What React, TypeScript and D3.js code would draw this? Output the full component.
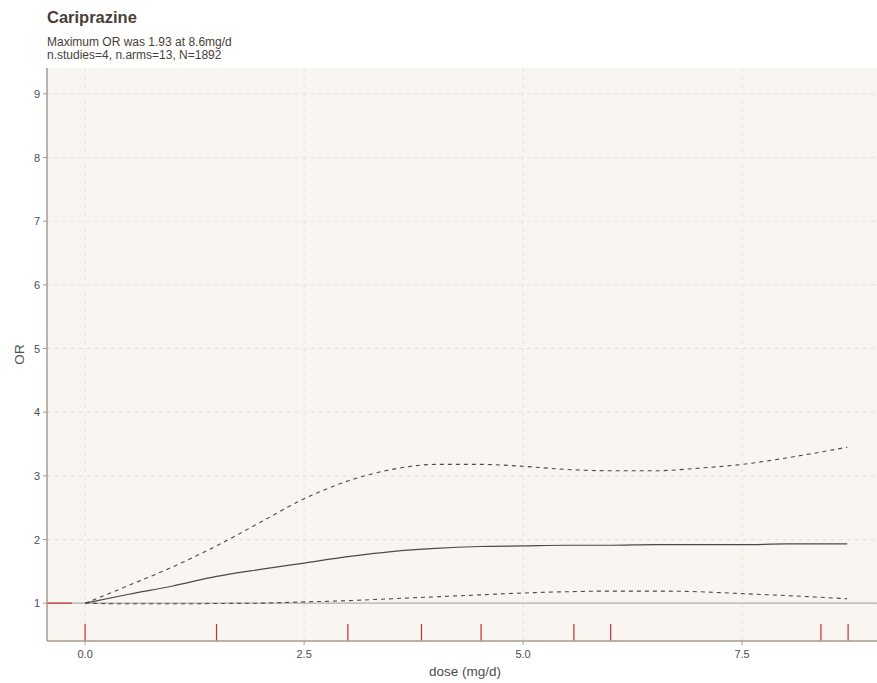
import React from "react";
import * as d3 from "d3";

const doses = [0, 0.5, 1, 1.5, 2, 2.5, 3, 3.5, 4, 4.5, 5, 5.5, 6, 6.5, 7, 7.5, 8, 8.7];
const orEstimate = [1.0, 1.14, 1.27, 1.42, 1.53, 1.63, 1.73, 1.81, 1.86, 1.89, 1.9, 1.91, 1.91, 1.92, 1.92, 1.92, 1.93, 1.93];
const orUpper = [1.0, 1.28, 1.57, 1.9, 2.27, 2.64, 2.92, 3.1, 3.18, 3.18, 3.15, 3.1, 3.08, 3.08, 3.12, 3.18, 3.28, 3.45];
const orLower = [1.0, 0.99, 0.99, 0.995, 1.0, 1.02, 1.04, 1.07, 1.1, 1.13, 1.16, 1.18, 1.19, 1.19, 1.18, 1.15, 1.12, 1.07];
const rugDoses = [0, 1.5, 3, 3.84, 4.52, 5.58, 6, 8.4, 8.71];
const xTicks = [0, 2.5, 5, 7.5];
const yTicks = [1, 2, 3, 4, 5, 6, 7, 8, 9];
const title = "Cariprazine";
const subtitle1 = "Maximum OR was 1.93 at 8.6mg/d";
const subtitle2 = "n.studies=4, n.arms=13, N=1892";

const W = 877;
const H = 683;
const L = 47, R = 877, T = 68, B = 641;

export default function App() {
  const x = d3.scaleLinear().domain([-0.435, 9.04]).range([L, R]);
  const y = d3.scaleLinear().domain([0.406, 9.406]).range([B, T]);
  const mk = (vals: number[]) =>
    d3.line<number>().x((_, i) => x(doses[i])).y((v) => y(v)).curve(d3.curveMonotoneX)(vals) || "";
  const font = "'Liberation Sans', Arial, sans-serif";
  const txt = "#4d4d4d";
  const grid = "#e9e3d5";
  return (
    <svg width={W} height={H} style={{ position: "absolute", left: 0, top: 0, fontFamily: font }}>
      <rect x={0} y={0} width={W} height={H} fill="#ffffff" />
      <text x={47} y={23} fontSize={16.5} fontWeight="bold" fill="#4a3e36">{title}</text>
      <text x={47} y={46} fontSize={12} fill="#4a3e36">{subtitle1}</text>
      <text x={47} y={59} fontSize={12} fill="#4a3e36">{subtitle2}</text>
      <rect x={L} y={T} width={R - L} height={B - T} fill="#f9f6f1" />
      {xTicks.map((t) => (
        <line key={"gx" + t} x1={x(t)} x2={x(t)} y1={T} y2={B} stroke={grid} strokeWidth={1} strokeDasharray="4,4" />
      ))}
      {yTicks.map((t) => (
        <line key={"gy" + t} x1={L} x2={R} y1={y(t)} y2={y(t)} stroke={grid} strokeWidth={1} strokeDasharray="4,4" />
      ))}
      <line x1={L} x2={R} y1={y(1)} y2={y(1)} stroke="#b5b0a8" strokeWidth={1.2} />
      <line x1={L} x2={x(-0.15)} y1={y(1)} y2={y(1)} stroke="#c8323a" strokeWidth={1.2} />
      <path d={mk(orUpper)} fill="none" stroke="#4a4a4a" strokeWidth={1.1} strokeDasharray="4,4" />
      <path d={mk(orLower)} fill="none" stroke="#4a4a4a" strokeWidth={1.1} strokeDasharray="4,4" />
      <path d={mk(orEstimate)} fill="none" stroke="#4a4a4a" strokeWidth={1.2} />
      {rugDoses.map((d, i) => (
        <line key={"r" + i} x1={x(d)} x2={x(d)} y1={B - 17} y2={B} stroke="#cc2a33" strokeWidth={1.2} />
      ))}
      <line x1={L} x2={L} y1={T} y2={B} stroke="#a89a8c" strokeWidth={1.5} />
      <line x1={L} x2={R} y1={B} y2={B} stroke="#a89a8c" strokeWidth={1.5} />
      {yTicks.map((t) => (
        <g key={"ty" + t}>
          <line x1={L - 4} x2={L} y1={y(t)} y2={y(t)} stroke="#a89a8c" strokeWidth={1} />
          <text x={L - 7} y={y(t) + 4} fontSize={11} fill={txt} textAnchor="end">{t}</text>
        </g>
      ))}
      {xTicks.map((t) => (
        <g key={"tx" + t}>
          <line x1={x(t)} x2={x(t)} y1={B} y2={B + 4} stroke="#a89a8c" strokeWidth={1} />
          <text x={x(t)} y={B + 17} fontSize={11} fill={txt} textAnchor="middle">{t.toFixed(1)}</text>
        </g>
      ))}
      <text x={465} y={B + 35} fontSize={13.5} fill={txt} textAnchor="middle">dose (mg/d)</text>
      <text transform={`translate(24, ${(T + B) / 2}) rotate(-90)`} fontSize={13.5} fill={txt} textAnchor="middle">OR</text>
    </svg>
  );
}
